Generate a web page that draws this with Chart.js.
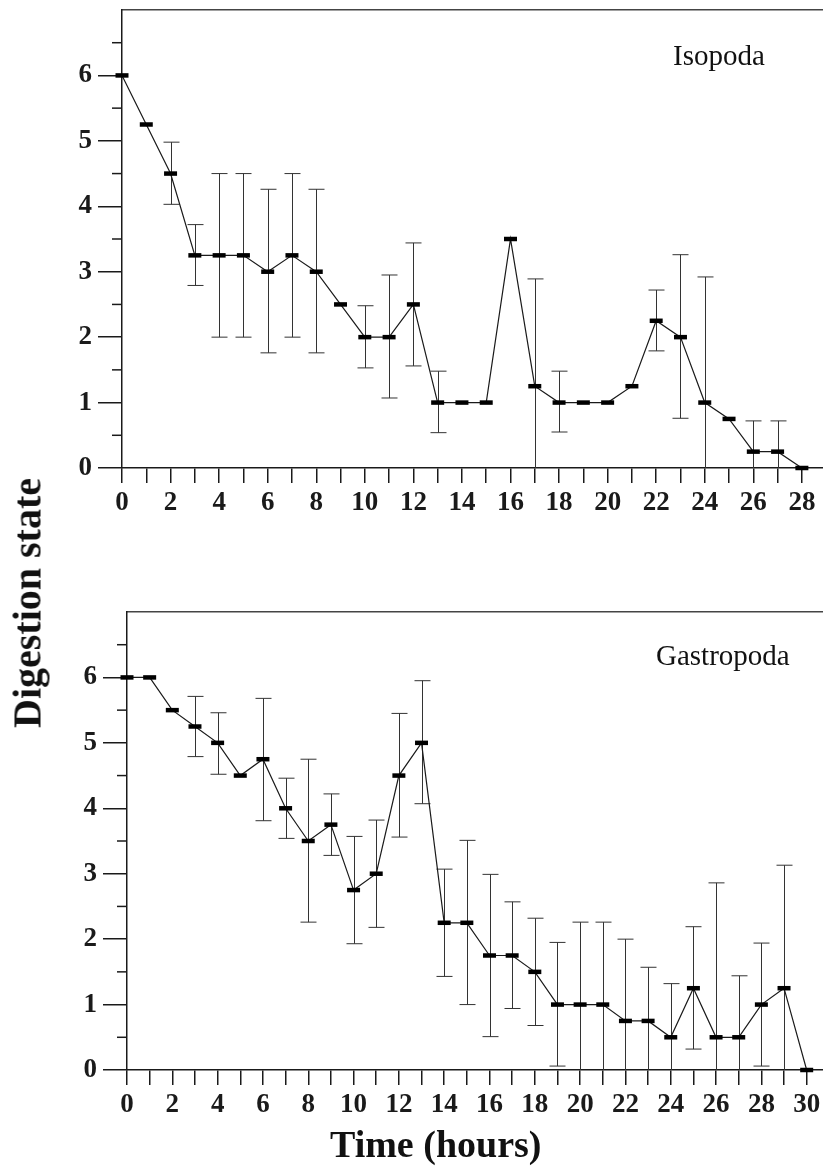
<!DOCTYPE html>
<html>
<head>
<meta charset="utf-8">
<script src="https://cdn.jsdelivr.net/npm/chart.js@4.4.1/dist/chart.umd.min.js"></script>
<style>
    body { margin: 0; background: #fff; }
    #wrap { position: relative; width: 823px; height: 1172px; overflow: hidden; font-family: "Liberation Serif", "DejaVu Serif", serif; }
    canvas { position: absolute; left: 0; }
    #topChart { top: 0; }
    #bottomChart { top: 560px; }
    .label { position: absolute; font-size: 29px; color: #111; white-space: nowrap; }
    .title { position: absolute; font-size: 38px; font-weight: bold; color: #111; white-space: nowrap; }
</style>
</head>
<body>
<div id="wrap">
    <canvas id="topChart" width="823" height="540"></canvas>
    <canvas id="bottomChart" width="823" height="612"></canvas>
    <div class="label" style="left:673px; top:39px;">Isopoda</div>
    <div class="label" style="left:656px; top:639px;">Gastropoda</div>
    <div class="title" style="left:330px; top:1122px;">Time (hours)</div>
    <div class="title" style="left:27px; top:603px; font-size:40px; transform: translate(-50%, -50%) rotate(-90deg);">Digestion state</div>
</div>

<script>
// ======================= Data =======================
const isoHours = [0, 1, 2, 3, 4, 5, 6, 7, 8, 9, 10, 11, 12, 13, 14, 15, 16, 17, 18, 19, 20, 21, 22, 23, 24, 25, 26, 27, 28];
const isoMean  = [6, 5.25, 4.5, 3.25, 3.25, 3.25, 3, 3.25, 3, 2.5, 2, 2, 2.5, 1, 1, 1, 3.5, 1.25, 1, 1, 1, 1.25, 2.25, 2, 1, 0.75, 0.25, 0.25, 0];
const isoLow   = [null, null, 4.03, 2.79, 2.0, 2.0, 1.76, 2.0, 1.76, null, 1.53, 1.07, 1.56, 0.54, null, null, null, 0, 0.55, null, null, null, 1.79, 0.76, 0, null, 0, 0, null];
const isoHigh  = [null, null, 4.98, 3.72, 4.5, 4.5, 4.26, 4.5, 4.26, null, 2.48, 2.95, 3.44, 1.48, null, null, null, 2.89, 1.48, null, null, null, 2.72, 3.26, 2.92, null, 0.72, 0.72, null];

const gasHours = [0, 1, 2, 3, 4, 5, 6, 7, 8, 9, 10, 11, 12, 13, 14, 15, 16, 17, 18, 19, 20, 21, 22, 23, 24, 25, 26, 27, 28, 29, 30];
const gasMean  = [6, 6, 5.5, 5.25, 5, 4.5, 4.75, 4, 3.5, 3.75, 2.75, 3, 4.5, 5, 2.25, 2.25, 1.75, 1.75, 1.5, 1, 1, 1, 0.75, 0.75, 0.5, 1.25, 0.5, 0.5, 1, 1.25, 0];
const gasLow   = [null, null, null, 4.79, 4.52, null, 3.81, 3.54, 2.26, 3.28, 1.93, 2.18, 3.56, 4.07, 1.43, 1.0, 0.51, 0.94, 0.68, 0.06, 0, 0, 0, 0, 0, 0.32, 0, 0, 0.06, 0, null];
const gasHigh  = [null, null, null, 5.71, 5.46, null, 5.68, 4.46, 4.75, 4.22, 3.57, 3.82, 5.45, 5.95, 3.07, 3.51, 2.99, 2.57, 2.32, 1.95, 2.26, 2.26, 2.0, 1.57, 1.32, 2.19, 2.86, 1.44, 1.94, 3.13, null];

const yTickLabels = [0, 1, 2, 3, 4, 5, 6];

const INK = "#1a1a1a";
const tickFont = { family: "Liberation Serif", size: 27, weight: "bold" };

// ======================= Plugins =======================
// error bars + minor ticks on the y axis, both placed via the chart's scales
const errorBarPlugin = {
    id: "errorBars",
    beforeDatasetsDraw(chart, args, opts) {
        const { ctx, scales: { x, y } } = chart;
        ctx.save();
        ctx.strokeStyle = "#333";
        ctx.lineWidth = 1;
        opts.hours.forEach((h, i) => {
            const lo = opts.low[i];
            const hi = opts.high[i];
            if (lo === null || hi === null) return;
            const px = Math.round(x.getPixelForValue(h)) + 0.5;
            const pLo = y.getPixelForValue(lo);
            const pHi = y.getPixelForValue(hi);
            ctx.beginPath();
            ctx.moveTo(px, pLo);
            ctx.lineTo(px, pHi);
            ctx.moveTo(px - 8, pHi);
            ctx.lineTo(px + 8, pHi);
            if (lo > 0) {
                ctx.moveTo(px - 8, pLo);
                ctx.lineTo(px + 8, pLo);
            }
            ctx.stroke();
        });
        ctx.restore();
    },
    afterDraw(chart) {
        const { ctx, scales: { y } } = chart;
        ctx.save();
        ctx.strokeStyle = INK;
        ctx.lineWidth = 1.5;
        for (let v = 0.5; v < 6.6; v += 1) {
            const py = y.getPixelForValue(v);
            ctx.beginPath();
            ctx.moveTo(y.right - 10, py);
            ctx.lineTo(y.right, py);
            ctx.stroke();
        }
        ctx.restore();
    }
};

// ======================= Charts =======================
function makeChart(canvasId, hours, mean, low, high, xMax, leftPx, topPx, bottomPx) {
    const canvas = document.getElementById(canvasId);
    const points = hours.map((h, i) => ({ x: h, y: mean[i] }));

    return new Chart(canvas, {
        type: "line",
        data: {
            datasets: [{
                data: points,
                borderColor: INK,
                borderWidth: 1.2,
                tension: 0,
                pointStyle: "line",
                pointRadius: 6.5,
                pointBorderWidth: 4.5,
                pointBorderColor: "#000",
                pointBackgroundColor: "#000",
                clip: false
            }]
        },
        options: {
            responsive: false,
            animation: false,
            layout: { padding: 0, autoPadding: false },
            plugins: {
                legend: { display: false },
                tooltip: { enabled: false },
                errorBars: { hours: hours, low: low, high: high }
            },
            scales: {
                x: {
                    type: "linear",
                    position: "bottom",
                    min: 0,
                    max: xMax,
                    afterFit: s => {
                        s.height = canvas.height - bottomPx;
                        s.paddingLeft = 0;
                        s.paddingRight = 0;
                    },
                    ticks: {
                        stepSize: 1,
                        autoSkip: false,
                        includeBounds: false,
                        maxRotation: 0,
                        padding: 4,
                        color: INK,
                        font: tickFont,
                        callback: v => (v % 2 === 0 ? String(v) : "")
                    },
                    grid: { drawOnChartArea: false, tickLength: 15, color: INK, lineWidth: 1.5 },
                    border: { color: INK, width: 1.5 }
                },
                xTop: {
                    type: "linear",
                    position: "top",
                    min: 0,
                    max: xMax,
                    afterFit: s => {
                        s.height = topPx;
                        s.paddingLeft = 0;
                        s.paddingRight = 0;
                    },
                    ticks: { display: false },
                    grid: { display: false },
                    border: { color: "#444", width: 1.5 }
                },
                y: {
                    min: 0,
                    max: 7,
                    afterFit: s => {
                        s.width = leftPx;
                        s.paddingTop = 0;
                        s.paddingBottom = 0;
                    },
                    ticks: {
                        stepSize: 1,
                        padding: 6,
                        color: INK,
                        font: tickFont,
                        callback: v => (yTickLabels.includes(v) ? String(v) : "")
                    },
                    grid: {
                        drawOnChartArea: false,
                        tickLength: 24,
                        lineWidth: 1.5,
                        color: INK,
                        tickColor: c => (c.tick && c.tick.value > 6 ? "rgba(0,0,0,0)" : INK)
                    },
                    border: { color: INK, width: 1.5 }
                }
            }
        },
        plugins: [errorBarPlugin]
    });
}

makeChart("topChart", isoHours, isoMean, isoLow, isoHigh, 28.87, 122, 10, 468);
makeChart("bottomChart", gasHours, gasMean, gasLow, gasHigh, 30.72, 127, 52, 510);
</script>
</body>
</html>
